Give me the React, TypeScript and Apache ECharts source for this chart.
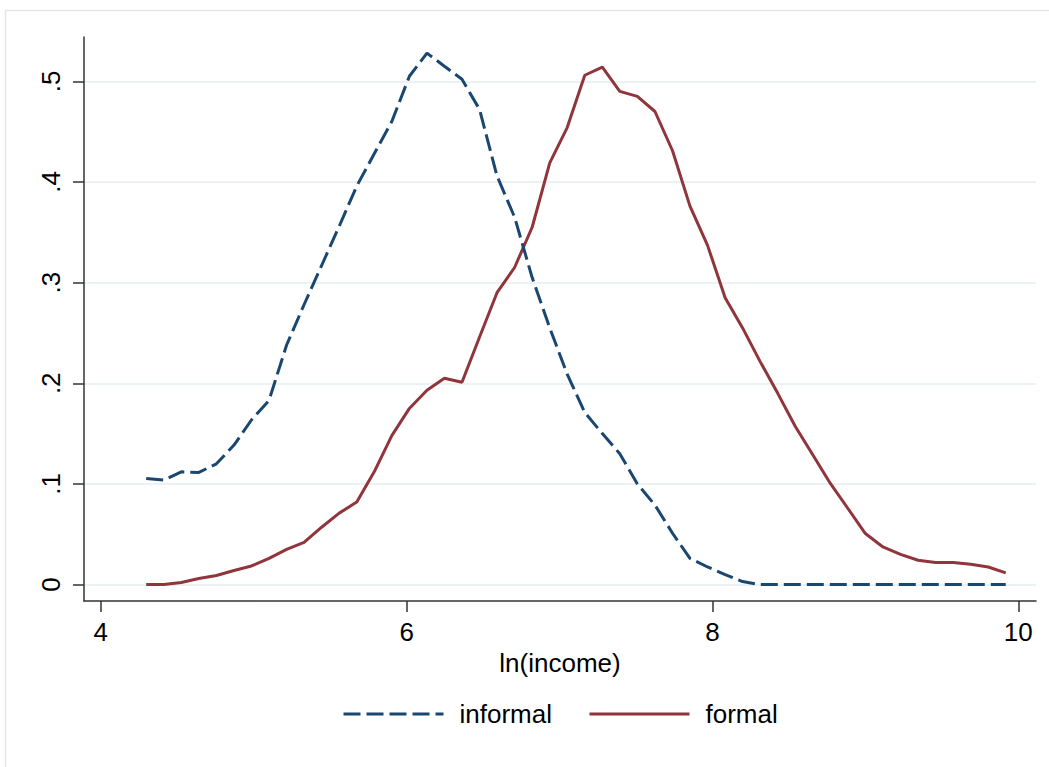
import React, { useEffect, useRef } from "react";
import * as echarts from "echarts";

const xGrid = [
  4.297, 4.412, 4.526, 4.641, 4.756, 4.871, 4.985, 5.1, 5.215, 5.329,
  5.444, 5.559, 5.674, 5.788, 5.903, 6.018, 6.133, 6.247, 6.362, 6.477,
  6.591, 6.706, 6.821, 6.936, 7.05, 7.165, 7.28, 7.394, 7.509, 7.624,
  7.739, 7.853, 7.968, 8.083, 8.197, 8.312, 8.427, 8.542, 8.656, 8.771,
  8.886, 9.0, 9.115, 9.23, 9.345, 9.459, 9.574, 9.689, 9.804, 9.918,
];

const informal = [
  0.1055, 0.1038, 0.112, 0.1114, 0.12, 0.1386, 0.1635, 0.183, 0.238, 0.278,
  0.317, 0.356, 0.396, 0.428, 0.46, 0.505, 0.528, 0.515, 0.502, 0.472,
  0.406, 0.365, 0.305, 0.255, 0.209, 0.171, 0.15, 0.13, 0.1, 0.079,
  0.051, 0.026, 0.0175, 0.01, 0.003, 0, 0, 0, 0, 0,
  0, 0, 0, 0, 0, 0, 0, 0, 0, 0,
];

const formal = [
  0, 0, 0.002, 0.006, 0.009, 0.014, 0.0185, 0.026, 0.035, 0.042,
  0.057, 0.071, 0.082, 0.112, 0.148, 0.175, 0.193, 0.205, 0.201, 0.246,
  0.29, 0.315, 0.355, 0.419, 0.454, 0.506, 0.514, 0.49, 0.485, 0.47,
  0.431, 0.376, 0.337, 0.285, 0.255, 0.2215, 0.19, 0.157, 0.129, 0.1005,
  0.0756, 0.0507, 0.0374, 0.03, 0.0242, 0.0219, 0.0219, 0.0202, 0.0175, 0.0116,
];

const xTicks = [4, 6, 8, 10];
const yTicks = [0, 0.1, 0.2, 0.3, 0.4, 0.5];
const seriesNames = ["informal", "formal"];
const xTitle = "ln(income)";

const FONT = "'Liberation Sans', Arial, Helvetica, sans-serif";

export default function App() {
  const ref = useRef<HTMLDivElement>(null);
  useEffect(() => {
    if (!ref.current) return;
    const chart = echarts.init(ref.current, null, { renderer: "svg" });
    const axisColor = "#333";
    chart.setOption({
      animation: false,
      backgroundColor: "#ffffff",
      graphic: [
        {
          type: "rect",
          shape: { x: 5.5, y: 10.5, width: 1200, height: 900 },
          style: { fill: "none", stroke: "#e6e6e6", lineWidth: 1.5 },
          silent: true,
          z: -1,
        },
      ],
      grid: { left: 84, right: 13, top: 37, bottom: 166, containLabel: false },
      legend: {
        data: seriesNames,
        top: 696,
        left: 337,
        itemWidth: 100,
        itemHeight: 20,
        itemGap: 36,
        itemStyle: { opacity: 0 },
        lineStyle: { width: 3 },
        textStyle: {
          fontFamily: FONT,
          fontSize: 26,
          color: "#000",
          padding: [0, 0, 0, 11],
        },
      },
      xAxis: {
        type: "value",
        min: 3.89,
        max: 10.116,
        name: xTitle,
        nameLocation: "middle",
        nameGap: 46,
        nameTextStyle: { fontFamily: FONT, fontSize: 26, color: "#000" },
        axisLine: { show: true, onZero: false, lineStyle: { color: axisColor, width: 1.5 } },
        axisTick: {
          show: true,
          length: 11,
          customValues: xTicks,
          lineStyle: { color: axisColor, width: 1.5 },
        },
        axisLabel: {
          customValues: xTicks,
          margin: 18,
          fontFamily: FONT,
          fontSize: 26,
          color: "#000",
        },
        splitLine: { show: false },
      },
      yAxis: {
        type: "value",
        min: -0.0163,
        max: 0.544,
        axisLine: { show: true, onZero: false, lineStyle: { color: axisColor, width: 1.5 } },
        axisTick: {
          show: true,
          length: 11,
          customValues: yTicks,
          lineStyle: { color: axisColor, width: 1.5 },
        },
        axisLabel: {
          customValues: yTicks,
          rotate: 90,
          margin: 20,
          fontFamily: FONT,
          fontSize: 26,
          color: "#000",
          formatter: (v: number) => (v === 0 ? "0" : String(Math.round(v * 10) / 10).replace(/^0/, "")),
        },
        splitLine: { show: true, lineStyle: { color: "#eaf2f3", width: 2 } },
      },
      series: [
        {
          name: seriesNames[0],
          type: "line",
          data: xGrid.map((x, i) => [x, informal[i]]),
          symbol: "none",
          showSymbol: false,
          lineStyle: { color: "#1a476f", width: 3, type: [17, 6] },
          itemStyle: { color: "#1a476f" },
          z: 3,
        },
        {
          name: seriesNames[1],
          type: "line",
          data: xGrid.map((x, i) => [x, formal[i]]),
          symbol: "none",
          showSymbol: false,
          lineStyle: { color: "#90353b", width: 3 },
          itemStyle: { color: "#90353b" },
          z: 2,
        },
      ],
    });
    return () => chart.dispose();
  }, []);
  return (
    <div
      ref={ref}
      style={{ position: "fixed", left: 0, top: 0, width: 1049, height: 767, background: "#fff" }}
    />
  );
}
